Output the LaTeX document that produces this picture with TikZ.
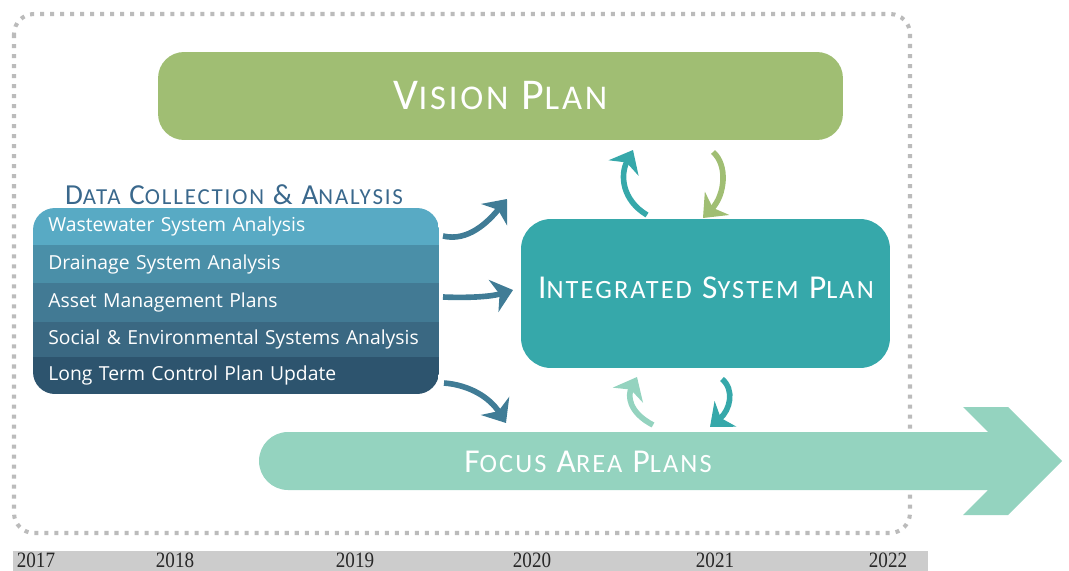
\documentclass[tikz,border=0pt]{standalone}
\usepackage{fontspec}
\setmainfont{Carlito}
\newfontfamily\headfont[LetterSpace=8]{Carlito}
\newfontfamily\itemfont{Open Sans}
\newfontfamily\yearfont{Liberation Serif}
\usepackage{tikz}
\usetikzlibrary{arrows.meta}

\definecolor{visiongreen}{RGB}{160,190,115}
\definecolor{systeal}{RGB}{54,168,170}
\definecolor{focusmint}{RGB}{148,211,191}
\definecolor{datablue}{RGB}{64,124,150}
\definecolor{headblue}{RGB}{58,104,140}
\definecolor{rowa}{RGB}{88,170,196}
\definecolor{rowb}{RGB}{74,143,168}
\definecolor{rowc}{RGB}{66,122,148}
\definecolor{rowd}{RGB}{58,104,130}
\definecolor{rowe}{RGB}{45,84,110}
\definecolor{dotgray}{RGB}{187,187,187}
\definecolor{bargray}{RGB}{204,204,204}
\definecolor{yeargray}{RGB}{40,40,40}

\newcommand{\lowcaps}[1]{\scalebox{0.79}{#1}}

\begin{document}
\begin{tikzpicture}[x=0.02cm,y=-0.02cm,
  planbox/.style={fill,text=white,inner sep=0pt},
  rowbox/.style={anchor=north west,minimum width=8.12cm,inner sep=0pt,inner xsep=0.3cm,
    text width=7.52cm,align=left,text=white,font=\itemfont\fontsize{11}{12}\selectfont},
  flowarrow/.style={line width=3.2pt,-{Stealth[length=11.5pt,width=19pt,inset=3.5pt]}},
  year/.style={anchor=base,inner sep=0pt,text=yeargray,font=\yearfont\fontsize{12.5}{12.5}\selectfont}]
\useasboundingbox (0,0) rectangle (1069,571);
%
\draw[dotgray,line width=2.3pt,dash pattern=on 2.3pt off 3.4pt,rounded corners=0.4cm]
  (14,14) rectangle (910,533);
\fill[bargray] (13,551) rectangle (928,580);
\foreach \yr/\xp in {2017/36,2018/175,2019/355,2020/532,2021/715,2022/888}
  \node[year] (y\yr) at (\xp,567.5) {\scalebox{0.87}[1]{\yr}};
%
\node[planbox,fill=visiongreen,minimum width=13.7cm,minimum height=1.76cm,rounded corners=0.52cm,
  font=\headfont\fontsize{25}{25}\selectfont] (vision) at (500.5,96) {V\lowcaps{ISION} P\lowcaps{LAN}};
\node[planbox,fill=systeal,minimum width=7.38cm,minimum height=2.98cm,rounded corners=0.6cm]
  (isp) at (705.5,293.5) {};
\node[text=white,inner sep=0pt,font=\headfont\fontsize{19}{19}\selectfont] (isptext) at (706,288)
  {I\lowcaps{NTEGRATED} S\lowcaps{YSTEM} P\lowcaps{LAN}};
%
\fill[focusmint] (288,432) -- (988,432) -- (963,407) -- (1008,407) -- (1062,461) -- (1008,515)
  -- (963,515) -- (988,490) -- (288,490) .. controls (272,490) and (259,477) .. (259,461)
  .. controls (259,445) and (272,432) .. (288,432) -- cycle;
\node[text=white,inner sep=0pt,font=\headfont\fontsize{19}{19}\selectfont] (focus) at (588,462)
  {F\lowcaps{OCUS} A\lowcaps{REA} P\lowcaps{LANS}};
%
\node[text=headblue,inner sep=0pt,font=\headfont\fontsize{16.5}{16.5}\selectfont] (datahead) at (234,195)
  {D\lowcaps{ATA} C\lowcaps{OLLECTION} \& A\lowcaps{NALYSIS}};
\begin{scope}
\clip[rounded corners=0.44cm] (33,208) rectangle (439,394);
\node[rowbox,fill=rowa,minimum height=0.74cm,text depth=3pt] (waste) at (33,208) {Wastewater System Analysis};
\node[rowbox,fill=rowb,minimum height=0.76cm] (drain) at (33,245) {Drainage System Analysis};
\node[rowbox,fill=rowc,minimum height=0.78cm] (asset) at (33,283) {Asset Management Plans};
\node[rowbox,fill=rowd,minimum height=0.70cm] (social) at (33,322) {Social \& Environmental Systems Analysis};
\node[rowbox,fill=rowe,minimum height=0.74cm] (ltcp) at (33,357) {Long Term Control Plan Update};
\end{scope}
%
\coordinate (d1) at (443,236);
\coordinate (d1e) at (507,199);
\coordinate (d2) at (443,297);
\coordinate (d2e) at (513,290);
\coordinate (d3) at (444,383);
\coordinate (d3e) at (506,423);
\coordinate (up1) at (647,215);
\coordinate (up1e) at (633,150);
\coordinate (dn1) at (713,152);
\coordinate (dn1e) at (703,218);
\coordinate (up2) at (653,425);
\coordinate (up2e) at (637,377);
\coordinate (dn2) at (722,379);
\coordinate (dn2e) at (710,427);
%
\draw[flowarrow,datablue] (d1) .. controls (468,242) and (488,222) .. (d1e);
\draw[flowarrow,datablue] (d2) .. controls (465,298) and (490,297) .. (d2e);
\draw[flowarrow,datablue] (d3) .. controls (470,385) and (490,398) .. (d3e);
\draw[flowarrow,systeal] (up1) .. controls (622,200) and (620,175) .. (up1e);
\draw[flowarrow,visiongreen] (dn1) .. controls (728,165) and (725,195) .. (dn1e);
\draw[flowarrow,focusmint] (up2) .. controls (628,412) and (628,395) .. (up2e);
\draw[flowarrow,systeal] (dn2) .. controls (735,390) and (730,410) .. (dn2e);
\end{tikzpicture}
\end{document}
